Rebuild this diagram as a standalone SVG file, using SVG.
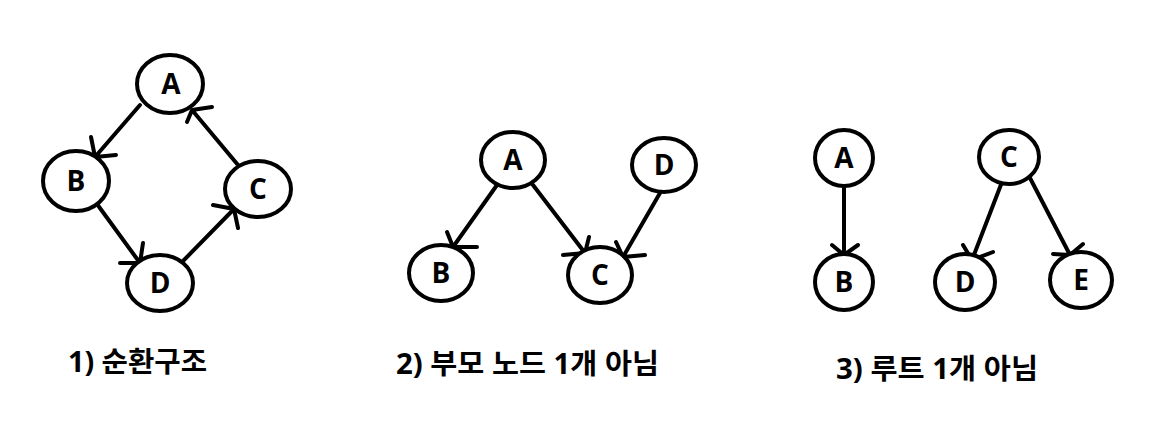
<svg xmlns="http://www.w3.org/2000/svg" width="1166" height="445" viewBox="0 0 1166 445">
<style>
.n{fill:#fff;stroke:#000;stroke-width:4}
.t{font-family:"Open Sans","Noto Sans CJK KR",sans-serif;font-weight:bold;font-size:28px;fill:#000;text-anchor:middle}
.c{fill:none;stroke:#000;stroke-width:4;stroke-linecap:round;stroke-linejoin:round}
.l{font-family:"Open Sans","Noto Sans CJK KR",sans-serif;font-weight:bold;font-size:28px;fill:#000}
</style>
<rect width="1166" height="445" fill="#fff"/>
<g id="connectors">
<path class="c" d="M140,105 L95,157 M91,137 L95,157 L116,155"/>
<path class="c" d="M238,165 L192,110 M212,107 L192,110 L187,122"/>
<path class="c" d="M97,204 L140,263 M143,243 L140,263 L120,263"/>
<path class="c" d="M184,260 L234,209 M213,205 L234,209 L238,228"/>
<path class="c" d="M497,185 L453,247 M447,232 L453,247 L477,247"/>
<path class="c" d="M533,185 L585,253 M589,237 L585,253 L563,255"/>
<path class="c" d="M660,193 L623,257 M616,242 L623,257 L645,255"/>
<path class="c" d="M844,187 L844,255 M832,245 L844,255 L858,245"/>
<path class="c" d="M1002,182 L972,260 M963,245 L972,260 L993,252"/>
<path class="c" d="M1030,178 L1070,255 M1083,244 L1070,255 L1053,254"/>
</g>
<g id="p1A"><ellipse class="n" cx="170" cy="84" rx="33" ry="29"/><text class="t" x="171" y="94">A</text></g>
<g id="p1B"><ellipse class="n" cx="76" cy="181" rx="33" ry="30"/><text class="t" x="76" y="191">B</text></g>
<g id="p1C"><ellipse class="n" cx="258" cy="189" rx="33" ry="28"/><text class="t" x="258" y="199">C</text></g>
<g id="p1D"><ellipse class="n" cx="160" cy="283" rx="33" ry="28"/><text class="t" x="160" y="293">D</text></g>
<g id="p2A"><ellipse class="n" cx="513" cy="160" rx="32" ry="28"/><text class="t" x="513" y="170">A</text></g>
<g id="p2D"><ellipse class="n" cx="664" cy="165" rx="32" ry="27"/><text class="t" x="664" y="175">D</text></g>
<g id="p2B"><ellipse class="n" cx="441" cy="273" rx="32" ry="28"/><text class="t" x="441" y="283">B</text></g>
<g id="p2C"><ellipse class="n" cx="600" cy="275" rx="32" ry="28"/><text class="t" x="600" y="285">C</text></g>
<g id="p3A"><ellipse class="n" cx="844" cy="158" rx="29" ry="28"/><text class="t" x="844" y="168">A</text></g>
<g id="p3B"><ellipse class="n" cx="844" cy="282" rx="29" ry="28"/><text class="t" x="844" y="292">B</text></g>
<g id="p3C"><ellipse class="n" cx="1009" cy="157" rx="30" ry="27"/><text class="t" x="1009" y="167">C</text></g>
<g id="p3D"><ellipse class="n" cx="965" cy="282" rx="30" ry="28"/><text class="t" x="965" y="292">D</text></g>
<g id="p3E"><ellipse class="n" cx="1081" cy="280" rx="31" ry="28"/><text class="t" x="1081" y="290">E</text></g>
<g id="labels">
<text class="l" x="68" y="372" textLength="139" lengthAdjust="spacingAndGlyphs">1) 순환구조</text>
<text class="l" x="396" y="374" textLength="263" lengthAdjust="spacingAndGlyphs">2) 부모 노드 1개 아님</text>
<text class="l" x="836" y="379" textLength="202" lengthAdjust="spacingAndGlyphs">3) 루트 1개 아님</text>
</g>
</svg>
